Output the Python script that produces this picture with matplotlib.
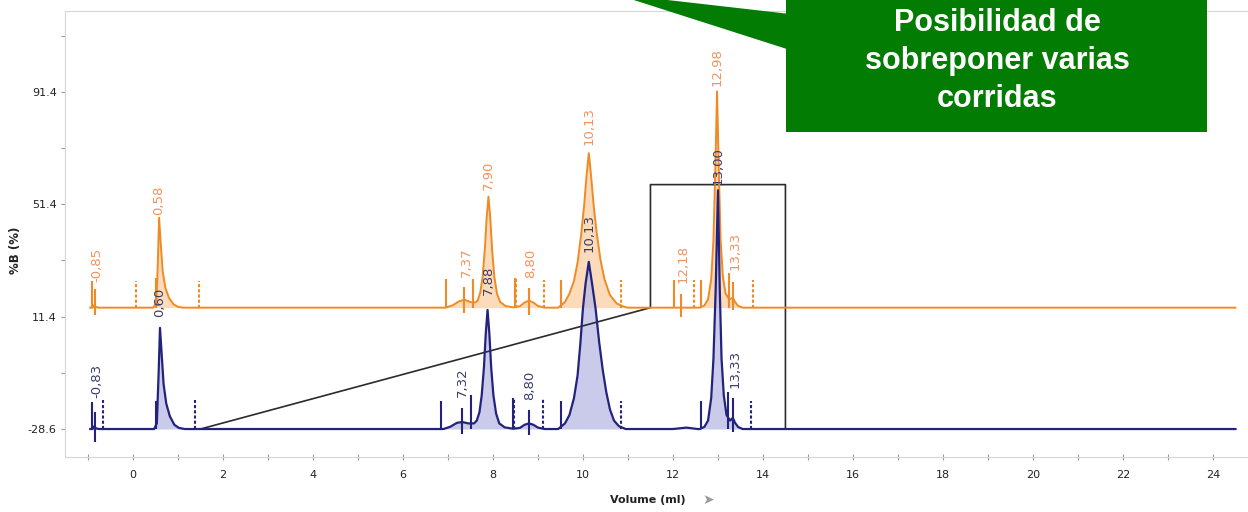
import matplotlib.pyplot as plt
import matplotlib.patches as mpatches
import numpy as np

#-------------------------------
#         chromatogram data (heights above each run's baseline)
#-------------------------------
base_o = 14.6      # orange run baseline (%B axis units)
base_b = -28.6     # blue run baseline

ox = [-0.95, -0.9, -0.86, -0.82, -0.75, 0.45, 0.52, 0.55, 0.58, 0.62, 0.66, 0.72, 0.8, 0.9, 1.0, 1.1,
      6.95, 7.1, 7.25, 7.37, 7.5, 7.6, 7.66, 7.72, 7.77, 7.82, 7.86, 7.9, 7.94, 7.98, 8.03, 8.09, 8.16, 8.28, 8.45,
      8.6, 8.7, 8.8, 8.9, 9.0, 9.15,
      9.45, 9.6, 9.7, 9.8, 9.88, 9.96, 10.03, 10.08, 10.13, 10.18, 10.24, 10.31, 10.39, 10.48, 10.6, 10.75, 10.9, 11.0,
      12.6, 12.7, 12.78, 12.85, 12.9, 12.94, 12.98, 13.02, 13.06, 13.11, 13.17, 13.25, 13.33, 13.38, 13.45, 13.55,
      24.5]
oy = [0, 0, 1.0, 0.2, 0, 0, 2, 15, 32, 22, 13, 7, 3.5, 1.2, 0.3, 0,
      0, 0.8, 2.3, 2.8, 2.0, 1.8, 2.5, 5.5, 11, 21, 32, 39.5, 32, 21, 11, 5, 2, 0.6, 0.1,
      0.5, 1.8, 2.5, 1.8, 0.6, 0,
      0, 2, 5, 9.5, 16, 26, 37, 47, 55, 47, 36, 26, 17, 10, 4.5, 1.5, 0.4, 0,
      0, 0.8, 3, 10, 24, 48, 77, 48, 24, 11, 5, 3, 3.5, 2, 0.6, 0,
      0]

bx = [-0.95, -0.9, -0.86, -0.82, -0.75, 0.47, 0.53, 0.57, 0.6, 0.64, 0.68, 0.74, 0.82, 0.92, 1.02, 1.15,
      6.9, 7.05, 7.2, 7.32, 7.45, 7.58, 7.64, 7.7, 7.75, 7.8, 7.84, 7.88, 7.92, 7.96, 8.01, 8.07, 8.14, 8.26, 8.45,
      8.6, 8.7, 8.8, 8.9, 9.0, 9.15,
      9.45, 9.6, 9.7, 9.8, 9.88, 9.94, 10.0, 10.06, 10.13, 10.2, 10.28, 10.36, 10.44, 10.52, 10.6, 10.69, 10.8, 10.95,
      12.0, 12.3, 12.55,
      12.6, 12.7, 12.78, 12.85, 12.9, 12.95, 13.0, 13.04, 13.08, 13.13, 13.19, 13.27, 13.33, 13.38, 13.45, 13.55,
      24.5]
by = [0, 0, 1.0, 0.2, 0, 0, 2, 20, 36, 26, 16, 9, 4.5, 1.5, 0.4, 0,
      0, 0.8, 2.2, 2.5, 2.0, 2.0, 3, 6, 12, 22, 34, 42.4, 34, 22, 12, 5.5, 2, 0.6, 0.1,
      0.4, 1.5, 2.0, 1.5, 0.5, 0,
      0, 2, 5, 11, 19, 30, 43, 52, 59.5, 52, 43, 31, 21, 13, 7, 3, 1, 0,
      0, 0.5, 0,
      0, 0.8, 3, 11, 25, 50, 85, 50, 25, 12, 5, 3, 4, 2.2, 0.7, 0,
      0]

# peak boundary markers (x, height above baseline)
o_solid_x = [-0.9, 0.51, 6.96, 7.55, 8.49, 9.51, 12.02, 12.62, 13.24]
o_solid_h = [9.5, 10.5, 10.2, 10.2, 10.5, 10, 10, 10, 12.5]
o_dash_x = [0.07, 1.47, 8.51, 9.13, 10.84, 12.47, 13.78]
o_dash_h = [9.5, 9.5, 10.5, 10, 10, 10, 10]
o_cross_x = [-0.84, 7.36, 8.80, 12.18, 13.33]
o_cross_top = [6.5, 7.5, 7, 5, 9]
o_cross_bot = [-2.5, -2, -2.5, -3.5, -1]

b_solid_x = [-0.91, 0.51, 6.84, 7.51, 8.44, 9.51, 12.62, 13.22]
b_solid_h = [9.6, 10, 10, 12, 11, 10, 10, 13]
b_dash_x = [-0.66, 1.38, 8.46, 9.11, 10.84, 13.73]
b_dash_h = [10.3, 10.3, 11, 10.7, 10, 10]
b_cross_x = [-0.84, 7.31, 8.80, 13.33]
b_cross_top = [6, 7.6, 6.8, 11]
b_cross_bot = [-4.6, -1.8, -2, -1]

# peak labels
o_lbl = ["-0,85", "0,58", "7,37", "7,90", "8,80", "10,13", "12,18", "12,98", "13,33"]
o_lbl_x = [-0.80, 0.58, 7.42, 7.90, 8.84, 10.13, 12.22, 12.98, 13.38]
o_lbl_h = [9.3, 33, 11, 42, 10.7, 58, 8.9, 79, 13.5]
b_lbl = ["-0,83", "0,60", "7,32", "7,88", "8,80", "10,13", "13,00", "13,33"]
b_lbl_x = [-0.80, 0.60, 7.33, 7.89, 8.82, 10.13, 13.00, 13.38]
b_lbl_h = [11, 40, 11.4, 47.7, 10.3, 63, 86.8, 14.6]

# gradient (%B)
gx = [1.5, 11.5, 11.5, 14.5, 14.5, 24.5]
gy = [-28.6, 14.6, 58.4, 58.4, -28.6, -28.6]

yticks_major = [-28.6, 11.4, 51.4, 91.4]
yticks_minor = [-8.6, 31.4, 71.4, 111.4]

c_or = '#f08a24'
c_or_fill = '#fbd3a8'
c_or_txt = '#f2935a'
c_bl = '#23237e'
c_bl_fill = '#b9b9e3'
c_bl_txt = '#3b3b70'

#-------------------------------
#         prepare and draw plot
#-------------------------------
fig = plt.figure(figsize=(12.48, 5.12), dpi=100)
ax = fig.add_axes([65/1248, 1-457/512, 1-65/1248, 446/512])

ox = np.array(ox); oy = np.array(oy)
bx = np.array(bx); by = np.array(by)

ax.fill_between(ox, base_o, oy + base_o, color=c_or_fill, alpha=0.8, lw=0, zorder=1)
ax.plot(ox, oy + base_o, color=c_or, lw=1.4, zorder=3)
ax.fill_between(bx, base_b, by + base_b, color=c_bl_fill, alpha=0.75, lw=0, zorder=2)
ax.plot(gx, gy, color='#2b2b2b', lw=1.2, zorder=2.5)
ax.plot(bx, by + base_b, color=c_bl, lw=1.6, zorder=4)

def markers(base, sx, sh, dx, dh, cx, ct, cb, col, z):
    ax.vlines(sx, base, base + np.array(sh), color=col, lw=1.5, zorder=z)
    ax.vlines(dx, base, base + np.array(dh), color=col, lw=1.5, linestyles=(0, (1.5, 1)), zorder=z)
    ax.vlines(cx, base + np.array(cb), base + np.array(ct), color=col, lw=1.5, zorder=z)

markers(base_o, o_solid_x, o_solid_h, o_dash_x, o_dash_h, o_cross_x, o_cross_top, o_cross_bot, c_or, 3)
markers(base_b, b_solid_x, b_solid_h, b_dash_x, b_dash_h, b_cross_x, b_cross_top, b_cross_bot, c_bl, 4)

for t, x, h in zip(o_lbl, o_lbl_x, o_lbl_h):
    ax.text(x, base_o + h, t, rotation=90, ha='center', va='bottom', fontsize=9.5,
            color=c_or_txt, zorder=5)
for t, x, h in zip(b_lbl, b_lbl_x, b_lbl_h):
    ax.text(x, base_b + h, t, rotation=90, ha='center', va='bottom', fontsize=9.5,
            color=c_bl_txt, zorder=5)

ax.set_xlim(-1.511, 24.78)
ax.set_ylim(-38.56, 120.2)
ax.set_xticks(range(0, 25, 2))
ax.set_xticks(range(-1, 25, 2), minor=True)
ax.set_yticks(yticks_major)
ax.set_yticklabels(['%.1f' % v for v in yticks_major])
ax.set_yticks(yticks_minor, minor=True)
ax.tick_params(axis='x', which='both', direction='inout', length=5, width=0.8,
               color='#9a9a9a', labelsize=8, labelcolor='#222222', pad=7)
ax.tick_params(axis='y', which='both', direction='out', length=3, width=0.8,
               color='#9a9a9a', labelsize=8, labelcolor='#222222', pad=3)
for s in ['left', 'bottom', 'top']:
    ax.spines[s].set_color('#d6d6d6')
ax.spines['right'].set_visible(False)

fig.text(648/1248, 1-500/512, 'Volume (ml)', ha='center', va='center', fontsize=8,
         fontweight='bold', color='#222222')
fig.text(708/1248, 1-500/512, '\u27a4', ha='center', va='center', fontsize=10, color='#9a9a9a')
fig.text(15/1248, 1-250/512, '%B (%)', ha='center', va='center', rotation=90, fontsize=8.5,
         fontweight='bold', color='#222222')

#-------------------------------
#         green callout
#-------------------------------
green = '#027c02'
pts = [(615, -6), (790, 14), (790, 50)]
fig.patches.append(mpatches.Polygon([(x/1248, 1 - y/512) for x, y in pts], closed=True,
                                    transform=fig.transFigure, facecolor=green, edgecolor='none', zorder=10))
fig.patches.append(mpatches.Rectangle((786/1248, 1-132/512), 421/1248, 140/512,
                                      transform=fig.transFigure, facecolor=green, edgecolor='none', zorder=10))
fig.text(997/1248, 1-61/512, 'Posibilidad de\nsobreponer varias\ncorridas', ha='center', va='center',
         fontsize=22, fontweight='bold', color='white', family='Liberation Sans',
         linespacing=1.35, zorder=11)

plt.savefig('out.png', dpi=100)
